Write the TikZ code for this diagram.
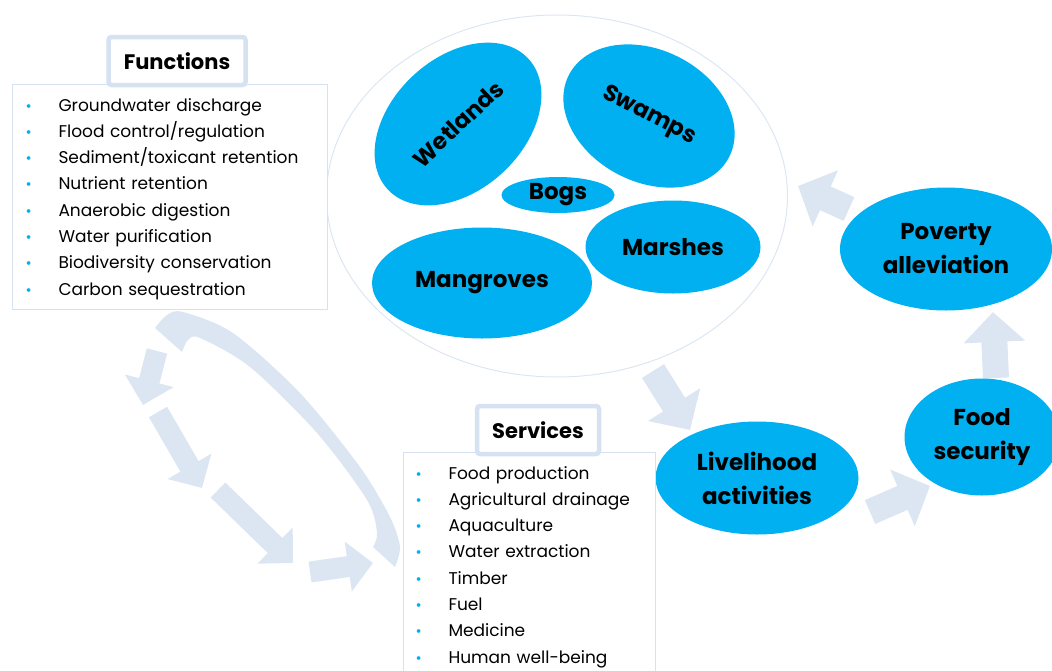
\documentclass[tikz,border=0pt]{standalone}
\usepackage{fontspec}
\setmainfont{Poppins}
\usetikzlibrary{shapes.geometric,arrows.meta}

\definecolor{wetblue}{HTML}{00B0F0}
\definecolor{paleblue}{HTML}{DCE6F2}
\definecolor{frameblue}{HTML}{D6E2F1}

\newcommand{\bitem}[1]{\makebox[33pt][l]{\textcolor{wetblue}{\fontsize{15}{15}\selectfont\textbullet}}#1}

\tikzset{
	blob/.style={ellipse, fill=wetblue, inner sep=0pt, align=center, font=\fontsize{23}{34}\selectfont\bfseries},
	titlebox/.style={draw=frameblue, line width=4.5pt, fill=white, rounded corners=3pt, font=\fontsize{21}{21}\selectfont\bfseries},
	listbox/.style={draw=frameblue, line width=1pt, fill=white, anchor=north west, align=left, inner ysep=9.5pt, font=\fontsize{17}{26.3}\selectfont},
	bigflow/.style={draw=paleblue, line width=26pt, -{Triangle[length=30pt, width=60pt]}},
	smallflow/.style={draw=paleblue, line width=21pt, -{Triangle[length=25pt, width=49pt]}}
}

\begin{document}
\begin{tikzpicture}[x=1pt, y=-1pt]
	\useasboundingbox (0,0) rectangle (1052,670);
	
	% arrow ends
	\coordinate (a1s) at (157,351);
	\coordinate (a1e) at (143,405);
	\coordinate (a2s) at (158,412);
	\coordinate (a2e) at (202,488);
	\coordinate (a3s) at (218,490);
	\coordinate (a3e) at (293,563);
	\coordinate (a4s) at (310,572);
	\coordinate (a4e) at (373,563);
	\coordinate (ecoout) at (653,371);
	\coordinate (livein) at (690,430);
	\coordinate (liveout) at (870,512);
	\coordinate (foodin) at (930,486);
	\coordinate (foodout) at (996,378);
	\coordinate (povin) at (993,312);
	\coordinate (povout) at (849,209);
	\coordinate (ecoin) at (798,186);
	
	% loop between functions and services
	\fill[paleblue] plot[smooth] coordinates {(155,328) (167,315) (183,312) (233,333) (300,393) (360,467) (390,517) (400,547) (395,567)}
		-- plot[smooth] coordinates {(373,547) (377,533) (367,500) (317,433) (250,367) (200,338) (188,340) (182,352)} -- cycle;
	\draw[smallflow] (a1s) -- (a1e);
	\draw[smallflow] (a2s) -- (a2e);
	\draw[smallflow] (a3s) -- (a3e);
	\draw[smallflow] (a4s) -- (a4e);
	
	% cycle on the right
	\draw[bigflow] (ecoout) -- (livein);
	\draw[bigflow] (liveout) -- (foodin);
	\draw[bigflow] (foodout) -- (povin);
	\draw[bigflow] (povout) -- (ecoin);
	
	% wetland types
	\node[ellipse, draw=paleblue, line width=1pt, minimum width=461, minimum height=362] (eco) at (557,196) {};
	\node[blob, minimum width=192, minimum height=132, rotate=43] (wetlands) at (458,124) {Wetlands};
	\node[blob, minimum width=180, minimum height=132, rotate=-27] (swamps) at (649,116) {Swamps};
	\node[blob, minimum width=113, minimum height=36] (bogs) at (558,195) {Bogs};
	\node[blob, minimum width=175, minimum height=93] (marshes) at (673,247) {Marshes};
	\node[blob, minimum width=220, minimum height=111] (mangroves) at (482,283) {Mangroves};
	
	% outcomes
	\node[blob, minimum width=203, minimum height=113] (live) at (757,478) {Livelihood\\activities};
	\node[blob, minimum width=155, minimum height=117] (food) at (982,437) {Food\\security};
	\node[blob, minimum width=212, minimum height=123] (poverty) at (946,249) {Poverty\\alleviation};
	
	% functions
	\node[listbox, text width=289pt, inner xsep=13pt] (funclist) at (12,84) {%
		\rule{0pt}{17pt}\bitem{Groundwater discharge}\\
		\bitem{Flood control/regulation}\\
		\bitem{Sediment/toxicant retention}\\
		\bitem{Nutrient retention}\\
		\bitem{Anaerobic digestion}\\
		\bitem{Water purification}\\
		\bitem{Biodiversity conservation}\\
		\bitem{Carbon sequestration}};
	\node[titlebox, minimum width=137, minimum height=48] (functitle) at (177,61) {Functions};
	
	% services
	\node[listbox, text width=228pt, inner xsep=12pt] (servlist) at (403,452) {%
		\rule{0pt}{17pt}\bitem{Food production}\\
		\bitem{Agricultural drainage}\\
		\bitem{Aquaculture}\\
		\bitem{Water extraction}\\
		\bitem{Timber}\\
		\bitem{Fuel}\\
		\bitem{Medicine}\\
		\bitem{Human well-being}};
	\node[titlebox, minimum width=122, minimum height=48] (servtitle) at (538,430) {Services};
\end{tikzpicture}
\end{document}
